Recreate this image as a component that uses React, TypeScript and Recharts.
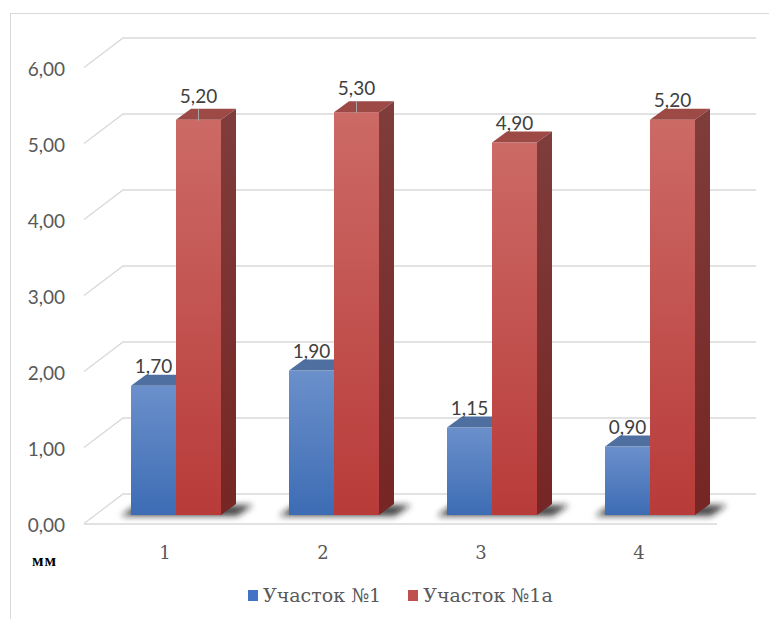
import React from "react";
import { Bar, BarChart, CartesianGrid, LabelList, XAxis, YAxis } from "recharts";

// Толщина слоя по участкам, мм
const categories = ["1", "2", "3", "4"];
const uchastok1 = [1.7, 1.9, 1.15, 0.9];
const uchastok1a = [5.2, 5.3, 4.9, 5.2];
const yTicks = [0, 1, 2, 3, 4, 5, 6];
const seriesNames = ["Участок №1", "Участок №1а"];

const data = categories.map((c, i) => ({
	name: c,
	s1: uchastok1[i],
	s1a: uchastok1a[i],
}));

// depth of the extruded box
const DX = 15;
const DY = 11;

const BLUE = { face: "url(#blueFace)", top: "#4f6fa0", side: "#2f5282", legend: "#4472c4" };
const RED = { face: "url(#redFace)", top: "#9d4a47", side: "url(#redSide)", legend: "#c0504d" };

const NUM_FONT = "Lato, 'Noto Sans', sans-serif";
const SERIF_FONT = "'DejaVu Serif', serif";

const fmt = (v: number) => v.toFixed(2).replace(".", ",");

function Box3D(props: any) {
	const { x, y, width: w, height: h, colors, shadow } = props;
	const base = y + h;
	return (
		<g>
			{shadow && (
				<polygon
					points={`${x - 10},${base + 1} ${x + 2 * w + 16},${base + 1} ${x + 2 * w + 32},${base - 10} ${x + 6},${base - 10}`}
					fill="#1a1a1a"
					fillOpacity={0.8}
					filter="url(#floorShadow)"
				/>
			)}
			<rect x={x} y={y} width={w} height={h} fill={colors.face} />
			<polygon
				points={`${x},${y} ${x + DX},${y - DY} ${x + w + DX},${y - DY} ${x + w},${y}`}
				fill={colors.top}
			/>
			<polygon
				points={`${x + w},${y} ${x + w + DX},${y - DY} ${x + w + DX},${base - DY} ${x + w},${base}`}
				fill={colors.side}
			/>
		</g>
	);
}

// labels that Excel pulled up get a short leader line
const LEADER_INDEX = [0, 1];

function ValueLabel(props: any) {
	const { x, y, width, value, index, leader } = props;
	const cx = x + width / 2;
	const lifted = leader && LEADER_INDEX.includes(index);
	const baseline = lifted ? y - 17 : y - 13;
	return (
		<g>
			{lifted && <line x1={cx} y1={y - 11} x2={cx} y2={y + 1} stroke="#a6a6a6" strokeWidth={1} />}
			<text x={cx} y={baseline} textAnchor="middle" fontFamily={NUM_FONT} fontSize={19} fill="#404040">
				{fmt(value)}
			</text>
		</g>
	);
}

function GridLine(props: any) {
	const { x1, x2, y1, y, height } = props;
	const front = y1 + 8.5;
	const back = y1 - 21;
	const isFloor = Math.abs(y1 - (y + height)) < 1;
	return (
		<g>
			<polyline
				points={`${x1 - 13},${front} ${x1 + 26},${back} ${x2 + 27},${back}`}
				fill="none"
				stroke="#d9d9d9"
				strokeWidth={1.3}
			/>
			{isFloor && (
				<line x1={x1 - 13} y1={front + 0.5} x2={x2 - 12} y2={front + 0.5} stroke="#d9d9d9" strokeWidth={1.3} />
			)}
		</g>
	);
}

function YTick(props: any) {
	const { y, payload } = props;
	return (
		<text x={65} y={y + 17} textAnchor="end" fontFamily={NUM_FONT} fontSize={19} fill="#595959">
			{fmt(payload.value)}
		</text>
	);
}

function XTick(props: any) {
	const { x, payload } = props;
	return (
		<text x={x - 11} y={559} textAnchor="middle" fontFamily={SERIF_FONT} fontSize={18} fill="#595959">
			{payload.value}
		</text>
	);
}

export default function App() {
	return (
		<div style={{ position: "absolute", left: 0, top: 0, width: 769, height: 619, background: "#fff" }}>
			<svg width={0} height={0} style={{ position: "absolute" }}>
				<defs>
					<linearGradient id="blueFace" x1="0" y1="0" x2="0" y2="1">
						<stop offset="0%" stopColor="#6b90cb" />
						<stop offset="100%" stopColor="#3d6cb4" />
					</linearGradient>
					<linearGradient id="redFace" x1="0" y1="0" x2="0" y2="1">
						<stop offset="0%" stopColor="#cc6a66" />
						<stop offset="100%" stopColor="#b83b39" />
					</linearGradient>
					<linearGradient id="redSide" x1="0" y1="0" x2="0" y2="1">
						<stop offset="0%" stopColor="#7f3d3b" />
						<stop offset="100%" stopColor="#762624" />
					</linearGradient>
					<filter id="floorShadow" x="-30%" y="-100%" width="160%" height="300%">
						<feGaussianBlur stdDeviation="3" />
					</filter>
				</defs>
			</svg>
			<div
				style={{
					position: "absolute",
					left: 10,
					top: 13,
					right: 0,
					bottom: 0,
					borderTop: "1px solid #d9d9d9",
					borderLeft: "1px solid #d9d9d9",
				}}
			/>
			<div style={{ position: "absolute", left: 0, top: 0 }}>
				<BarChart
					width={769}
					height={619}
					data={data}
					margin={{ top: 59, right: 40, bottom: 74, left: 0 }}
					barSize={45}
					barGap={0}
				>
					<CartesianGrid vertical={false} horizontal={(p: any) => <GridLine key={p.key} {...p} />} />
					<XAxis dataKey="name" axisLine={false} tickLine={false} height={30} tick={<XTick />} />
					<YAxis
						domain={[0, 6]}
						ticks={yTicks}
						axisLine={false}
						tickLine={false}
						width={97}
						tick={<YTick />}
					/>
					<Bar
						dataKey="s1"
						name={seriesNames[0]}
						isAnimationActive={false}
						shape={(p: any) => <Box3D {...p} colors={BLUE} shadow />}
					>
						<LabelList dataKey="s1" content={<ValueLabel />} />
					</Bar>
					<Bar
						dataKey="s1a"
						name={seriesNames[1]}
						isAnimationActive={false}
						shape={(p: any) => <Box3D {...p} colors={RED} />}
					>
						<LabelList dataKey="s1a" content={<ValueLabel leader />} />
					</Bar>
				</BarChart>
			</div>
			<div
				style={{
					position: "absolute",
					left: 32,
					top: 551,
					fontFamily: "'Liberation Serif', serif",
					fontWeight: "bold",
					fontSize: 17,
					letterSpacing: 1,
					color: "#000",
				}}
			>
				мм
			</div>
			<div
				style={{
					position: "absolute",
					left: 248,
					top: 584,
					display: "flex",
					alignItems: "center",
					fontFamily: SERIF_FONT,
					fontSize: 19,
					color: "#595959",
					whiteSpace: "nowrap",
				}}
			>
				{[BLUE, RED].map((c, i) => (
					<div key={seriesNames[i]} style={{ display: "flex", alignItems: "center", marginRight: 27 }}>
						<span style={{ display: "inline-block", width: 10, height: 11, background: c.legend, marginRight: 5 }} />
						<span>{seriesNames[i]}</span>
					</div>
				))}
			</div>
		</div>
	);
}
